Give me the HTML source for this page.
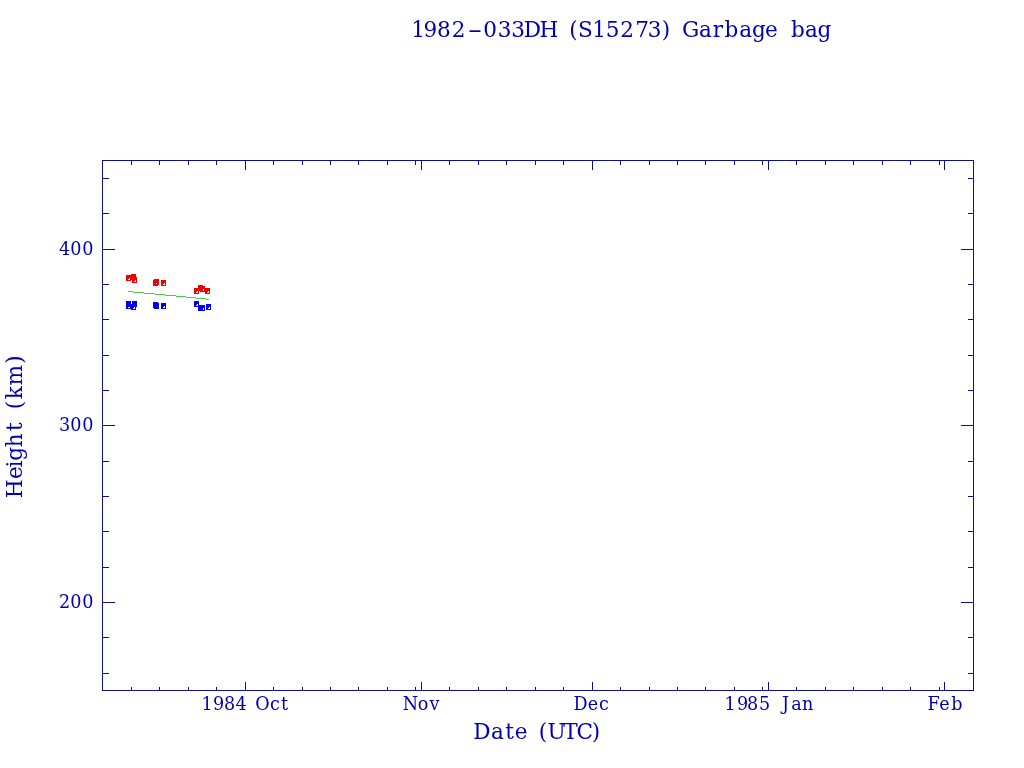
<!DOCTYPE html>
<html><head><meta charset="utf-8"><title>1982-033DH (S15273) Garbage bag</title>
<style>
html,body{margin:0;padding:0;background:#fff;width:1024px;height:768px;overflow:hidden}
svg{display:block;will-change:transform}
text{font-family:"DejaVu Serif","Liberation Serif",serif;fill:#0000b0}

</style></head><body>
<svg width="1024" height="768" viewBox="0 0 1024 768">
<rect width="1024" height="768" fill="#fff"/>
<g shape-rendering="crispEdges">
<rect x="102" y="160" width="872" height="1" fill="#0e0f8e"/>
<rect x="102" y="690" width="872" height="1" fill="#0e0f8e"/>
<rect x="102" y="160" width="1" height="531" fill="#0e0f8e"/>
<rect x="973" y="160" width="1" height="531" fill="#0e0f8e"/>
<rect x="131" y="160" width="1" height="5" fill="#0e0f8e"/>
<rect x="131" y="687" width="1" height="4" fill="#0e0f8e"/>
<rect x="159" y="160" width="1" height="5" fill="#0e0f8e"/>
<rect x="159" y="687" width="1" height="4" fill="#0e0f8e"/>
<rect x="188" y="160" width="1" height="5" fill="#0e0f8e"/>
<rect x="188" y="687" width="1" height="4" fill="#0e0f8e"/>
<rect x="216" y="160" width="1" height="5" fill="#0e0f8e"/>
<rect x="216" y="687" width="1" height="4" fill="#0e0f8e"/>
<rect x="245" y="160" width="1" height="10" fill="#0e0f8e"/>
<rect x="245" y="682" width="1" height="9" fill="#0e0f8e"/>
<rect x="273" y="160" width="1" height="5" fill="#0e0f8e"/>
<rect x="273" y="687" width="1" height="4" fill="#0e0f8e"/>
<rect x="302" y="160" width="1" height="5" fill="#0e0f8e"/>
<rect x="302" y="687" width="1" height="4" fill="#0e0f8e"/>
<rect x="330" y="160" width="1" height="5" fill="#0e0f8e"/>
<rect x="330" y="687" width="1" height="4" fill="#0e0f8e"/>
<rect x="358" y="160" width="1" height="5" fill="#0e0f8e"/>
<rect x="358" y="687" width="1" height="4" fill="#0e0f8e"/>
<rect x="387" y="160" width="1" height="5" fill="#0e0f8e"/>
<rect x="387" y="687" width="1" height="4" fill="#0e0f8e"/>
<rect x="415" y="160" width="1" height="5" fill="#0e0f8e"/>
<rect x="415" y="687" width="1" height="4" fill="#0e0f8e"/>
<rect x="421" y="160" width="1" height="10" fill="#0e0f8e"/>
<rect x="421" y="682" width="1" height="9" fill="#0e0f8e"/>
<rect x="449" y="160" width="1" height="5" fill="#0e0f8e"/>
<rect x="449" y="687" width="1" height="4" fill="#0e0f8e"/>
<rect x="478" y="160" width="1" height="5" fill="#0e0f8e"/>
<rect x="478" y="687" width="1" height="4" fill="#0e0f8e"/>
<rect x="506" y="160" width="1" height="5" fill="#0e0f8e"/>
<rect x="506" y="687" width="1" height="4" fill="#0e0f8e"/>
<rect x="535" y="160" width="1" height="5" fill="#0e0f8e"/>
<rect x="535" y="687" width="1" height="4" fill="#0e0f8e"/>
<rect x="563" y="160" width="1" height="5" fill="#0e0f8e"/>
<rect x="563" y="687" width="1" height="4" fill="#0e0f8e"/>
<rect x="592" y="160" width="1" height="10" fill="#0e0f8e"/>
<rect x="592" y="682" width="1" height="9" fill="#0e0f8e"/>
<rect x="620" y="160" width="1" height="5" fill="#0e0f8e"/>
<rect x="620" y="687" width="1" height="4" fill="#0e0f8e"/>
<rect x="649" y="160" width="1" height="5" fill="#0e0f8e"/>
<rect x="649" y="687" width="1" height="4" fill="#0e0f8e"/>
<rect x="677" y="160" width="1" height="5" fill="#0e0f8e"/>
<rect x="677" y="687" width="1" height="4" fill="#0e0f8e"/>
<rect x="705" y="160" width="1" height="5" fill="#0e0f8e"/>
<rect x="705" y="687" width="1" height="4" fill="#0e0f8e"/>
<rect x="734" y="160" width="1" height="5" fill="#0e0f8e"/>
<rect x="734" y="687" width="1" height="4" fill="#0e0f8e"/>
<rect x="762" y="160" width="1" height="5" fill="#0e0f8e"/>
<rect x="762" y="687" width="1" height="4" fill="#0e0f8e"/>
<rect x="768" y="160" width="1" height="10" fill="#0e0f8e"/>
<rect x="768" y="682" width="1" height="9" fill="#0e0f8e"/>
<rect x="796" y="160" width="1" height="5" fill="#0e0f8e"/>
<rect x="796" y="687" width="1" height="4" fill="#0e0f8e"/>
<rect x="825" y="160" width="1" height="5" fill="#0e0f8e"/>
<rect x="825" y="687" width="1" height="4" fill="#0e0f8e"/>
<rect x="853" y="160" width="1" height="5" fill="#0e0f8e"/>
<rect x="853" y="687" width="1" height="4" fill="#0e0f8e"/>
<rect x="882" y="160" width="1" height="5" fill="#0e0f8e"/>
<rect x="882" y="687" width="1" height="4" fill="#0e0f8e"/>
<rect x="910" y="160" width="1" height="5" fill="#0e0f8e"/>
<rect x="910" y="687" width="1" height="4" fill="#0e0f8e"/>
<rect x="939" y="160" width="1" height="5" fill="#0e0f8e"/>
<rect x="939" y="687" width="1" height="4" fill="#0e0f8e"/>
<rect x="944" y="160" width="1" height="10" fill="#0e0f8e"/>
<rect x="944" y="682" width="1" height="9" fill="#0e0f8e"/>
<rect x="102" y="673" width="7" height="1" fill="#0e0f8e"/>
<rect x="968" y="673" width="6" height="1" fill="#0e0f8e"/>
<rect x="102" y="637" width="7" height="1" fill="#0e0f8e"/>
<rect x="968" y="637" width="6" height="1" fill="#0e0f8e"/>
<rect x="102" y="602" width="13" height="1" fill="#0e0f8e"/>
<rect x="961" y="602" width="13" height="1" fill="#0e0f8e"/>
<rect x="102" y="567" width="7" height="1" fill="#0e0f8e"/>
<rect x="968" y="567" width="6" height="1" fill="#0e0f8e"/>
<rect x="102" y="531" width="7" height="1" fill="#0e0f8e"/>
<rect x="968" y="531" width="6" height="1" fill="#0e0f8e"/>
<rect x="102" y="496" width="7" height="1" fill="#0e0f8e"/>
<rect x="968" y="496" width="6" height="1" fill="#0e0f8e"/>
<rect x="102" y="461" width="7" height="1" fill="#0e0f8e"/>
<rect x="968" y="461" width="6" height="1" fill="#0e0f8e"/>
<rect x="102" y="425" width="13" height="1" fill="#0e0f8e"/>
<rect x="961" y="425" width="13" height="1" fill="#0e0f8e"/>
<rect x="102" y="390" width="7" height="1" fill="#0e0f8e"/>
<rect x="968" y="390" width="6" height="1" fill="#0e0f8e"/>
<rect x="102" y="355" width="7" height="1" fill="#0e0f8e"/>
<rect x="968" y="355" width="6" height="1" fill="#0e0f8e"/>
<rect x="102" y="319" width="7" height="1" fill="#0e0f8e"/>
<rect x="968" y="319" width="6" height="1" fill="#0e0f8e"/>
<rect x="102" y="284" width="7" height="1" fill="#0e0f8e"/>
<rect x="968" y="284" width="6" height="1" fill="#0e0f8e"/>
<rect x="102" y="249" width="13" height="1" fill="#0e0f8e"/>
<rect x="961" y="249" width="13" height="1" fill="#0e0f8e"/>
<rect x="102" y="213" width="7" height="1" fill="#0e0f8e"/>
<rect x="968" y="213" width="6" height="1" fill="#0e0f8e"/>
<rect x="102" y="178" width="7" height="1" fill="#0e0f8e"/>
<rect x="968" y="178" width="6" height="1" fill="#0e0f8e"/>
</g>
<g shape-rendering="crispEdges">
<path d="M128 291h5v1h-5zM133 292h11v1h-11zM144 293h11v1h-11zM155 294h10v1h-10zM165 295h11v1h-11zM176 296h10v1h-10zM186 297h10v1h-10zM196 298h10v1h-10zM206 299h3v1h-3z" fill="#4bcb4b"/>
<path d="M126 275h5v6h-5z M129 278h1v2h-2v-1h1z" fill="#f00000" fill-rule="evenodd"/>
<path d="M131 274h5v6h-5z M134 277h1v2h-2v-1h1z" fill="#f00000" fill-rule="evenodd"/>
<path d="M132 277h5v6h-5z M135 280h1v2h-2v-1h1z" fill="#f00000" fill-rule="evenodd"/>
<path d="M154 279h5v6h-5z M157 282h1v2h-2v-1h1z" fill="#f00000" fill-rule="evenodd"/>
<path d="M153 280h5v6h-5z M156 283h1v2h-2v-1h1z" fill="#f00000" fill-rule="evenodd"/>
<path d="M161 280h5v6h-5z M164 283h1v2h-2v-1h1z" fill="#f00000" fill-rule="evenodd"/>
<path d="M194 288h5v6h-5z M197 291h1v2h-2v-1h1z" fill="#f00000" fill-rule="evenodd"/>
<path d="M198 285h5v6h-5z M201 288h1v2h-2v-1h1z" fill="#f00000" fill-rule="evenodd"/>
<path d="M200 286h5v6h-5z M203 289h1v2h-2v-1h1z" fill="#f00000" fill-rule="evenodd"/>
<path d="M205 288h5v6h-5z M208 291h1v2h-2v-1h1z" fill="#f00000" fill-rule="evenodd"/>
<path d="M126 301h5v6h-5z M129 304h1v2h-2v-1h1z" fill="#0000f0" fill-rule="evenodd"/>
<path d="M126 303h5v6h-5z M129 306h1v2h-2v-1h1z" fill="#0000f0" fill-rule="evenodd"/>
<path d="M132 301h5v6h-5z M135 304h1v2h-2v-1h1z" fill="#0000f0" fill-rule="evenodd"/>
<path d="M131 304h5v6h-5z M134 307h1v2h-2v-1h1z" fill="#0000f0" fill-rule="evenodd"/>
<path d="M153 302h5v6h-5z M156 305h1v2h-2v-1h1z" fill="#0000f0" fill-rule="evenodd"/>
<path d="M154 303h5v6h-5z M157 306h1v2h-2v-1h1z" fill="#0000f0" fill-rule="evenodd"/>
<path d="M161 303h5v6h-5z M164 306h1v2h-2v-1h1z" fill="#0000f0" fill-rule="evenodd"/>
<path d="M194 301h5v6h-5z M197 304h1v2h-2v-1h1z" fill="#0000f0" fill-rule="evenodd"/>
<path d="M198 305h5v6h-5z M201 308h1v2h-2v-1h1z" fill="#0000f0" fill-rule="evenodd"/>
<path d="M200 305h5v6h-5z M203 308h1v2h-2v-1h1z" fill="#0000f0" fill-rule="evenodd"/>
<path d="M206 304h5v6h-5z M209 307h1v2h-2v-1h1z" fill="#0000f0" fill-rule="evenodd"/>
</g>
<g>
<text class="big" x="418 430.3 443.8 458.5 475 490 504.5 518 532.5 549 561 573.5 585.5 599 612.5 627 642 654.5 666 676 690.5 705.5 718 731.5 745.75 759 771.5 785 798 811.5 824.5" y="37" font-size="21.6" text-anchor="middle" >1982<tspan textLength="15" lengthAdjust="spacingAndGlyphs">-</tspan>033DH (S15273) Garbage bag</text>
<text x="207 218.5 229.5 241 250 262.5 275 284.5" y="710" font-size="17.6" text-anchor="middle" >1984 Oct</text>
<text x="410.5 423 434.5" y="710" font-size="17.6" text-anchor="middle" >Nov</text>
<text x="580.5 593 604" y="710" font-size="17.6" text-anchor="middle" >Dec</text>
<text x="730 742.5 752.5 764.5 773 785.5 796.5 807.75" y="710" font-size="17.6" text-anchor="middle" >1985 Jan</text>
<text x="933.5 944.5 956.8" y="710" font-size="17.6" text-anchor="middle" >Feb</text>
<text x="64.5 75.8 87.8" y="255" font-size="17.6" text-anchor="middle" >400</text>
<text x="64.5 75.8 87.8" y="431" font-size="17.6" text-anchor="middle" >300</text>
<text x="64.5 75.8 87.8" y="608" font-size="17.6" text-anchor="middle" >200</text>
<text class="big" x="482 497.5 509.5 521.25 532 543 556.5 570.5 584.8 596" y="739" font-size="21.6" text-anchor="middle" >Date (UTC)</text>
<text class="big" x="-488.75 -472.5 -464 -453.75 -440.3 -426.75 -416 -405 -392.8 -375.2 -359.6" y="22" font-size="21.6" text-anchor="middle" transform="rotate(-90)">Height (km)</text>
</g>
</svg>
</body></html>
